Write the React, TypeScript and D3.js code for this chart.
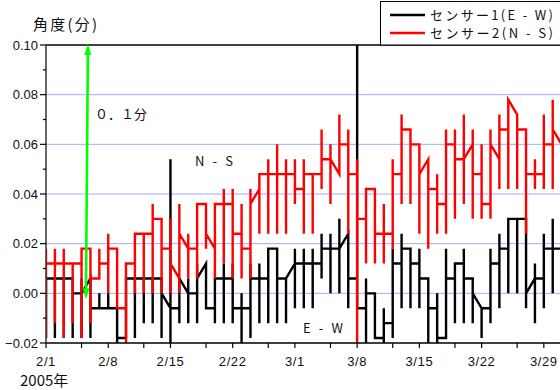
import React from 'react';
import * as d3 from 'd3';

// ---- axis labels ----
const xTickLabels = ['2/1', '2/8', '2/15', '2/22', '3/1', '3/8', '3/15', '3/22', '3/29'];
const xMinorLabels = ['2/5', '2/12', '2/19', '2/26', '3/5', '3/12', '3/19', '3/26'];
const yTicks = [0.1, 0.08, 0.06, 0.04, 0.02, 0.0, -0.02];
const yTickLabels = ['0.10', '0.08', '0.06', '0.04', '0.02', '0.00', '\u22120.02'];
const yMinor = [0.09, 0.07, 0.05, 0.03, 0.01, -0.01];
const gridValues = [0.08, 0.06, 0.04, 0.02, 0.0];

// ---- sensor 2 (N-S), red: daily min / max and level of the line leaving each day / arriving next day ----
const nsLo = [-0.018, -0.012, -0.018, -0.012, -0.018, -0.012, 0.006, 0, -0.006, -0.02, 0, 0, 0, 0, 0,
  0, 0.006, 0.006, 0.018, 0.006, 0.012, 0.006, 0.006, 0.006, 0.024, 0.024, 0.024, 0.024, 0.036,
  0.024, 0.024, 0.042, 0.036, 0.048, 0.024, -0.02, 0.012, 0.012, 0.012, 0.018, 0.036, 0.036, 0.024,
  0.018, 0.024, 0.024, 0.03, 0.036, 0.03, 0.03, 0.03, 0.042, 0.042, 0.042, 0.024, 0.042, 0.042, 0.042, 0.042];
const nsHi = [0.018, 0.018, 0.018, 0.012, 0.018, 0.018, 0.018, 0.024, 0.018, 0.012, 0.024, 0.024, 0.036, 0.03, 0.03,
  0.036, 0.024, 0.036, 0.036, 0.036, 0.042, 0.042, 0.036, 0.042, 0.048, 0.054, 0.06, 0.054, 0.054,
  0.054, 0.048, 0.066, 0.06, 0.072, 0.066, 0.054, 0.042, 0.042, 0.036, 0.054, 0.072, 0.06, 0.054,
  0.054, 0.048, 0.066, 0.066, 0.072, 0.066, 0.06, 0.066, 0.072, 0.078, 0.072, 0.066, 0.054, 0.072, 0.078, 0.066];
const nsOut = [0.012, 0.012, 0.012, 0.012, 0.018, 0.006, 0.012, 0.018, -0.006, 0.012, 0.024, 0.024, 0.03, 0.018, 0.012,
  0.024, 0.018, 0.036, 0.024, 0.036, 0.036, 0.024, 0.018, 0.036, 0.048, 0.048, 0.048, 0.048, 0.042,
  0.048, 0.048, 0.054, 0.054, 0.06, 0.048, 0.03, 0.042, 0.024, 0.024, 0.048, 0.066, 0.06, 0.048,
  0.042, 0.036, 0.06, 0.054, 0.054, 0.048, 0.036, 0.06, 0.066, 0.078, 0.066, 0.048, 0.048, 0.06, 0.066, 0.06];
const nsIn = [0.012, 0.012, 0.012, 0.012, 0.018, 0.006, 0.012, 0.018, -0.006, 0.012, 0.024, 0.024, 0.03, 0.018, 0.006,
  0.018, 0.018, 0.036, 0.018, 0.036, 0.036, 0.024, 0.018, 0.042, 0.048, 0.048, 0.048, 0.048, 0.042,
  0.048, 0.048, 0.054, 0.048, 0.06, 0.048, 0.03, 0.042, 0.024, 0.024, 0.048, 0.066, 0.06, 0.054,
  0.042, 0.036, 0.06, 0.054, 0.06, 0.048, 0.036, 0.054, 0.066, 0.072, 0.066, 0.048, 0.048, 0.06, 0.06, 0.06];

// ---- sensor 1 (E-W), black ----
const ewLo = [-0.018, -0.018, -0.018, -0.018, -0.018, -0.018, -0.006, -0.006, -0.02, -0.018, -0.018, -0.012, -0.012, -0.018, -0.02,
  -0.012, -0.012, -0.012, -0.006, -0.012, -0.012, -0.012, -0.02, -0.018, -0.012, -0.012, -0.012, -0.012, -0.006,
  -0.006, -0.006, 0.006, 0, 0, -0.006, -0.006, -0.02, -0.018, -0.02, -0.018, -0.006, -0.006, -0.006,
  -0.02, -0.02, -0.018, -0.012, -0.012, -0.012, -0.018, -0.012, -0.006, 0, 0, -0.006, -0.012, -0.006, 0, 0];
const ewHi = [0.006, 0.006, 0.006, 0.006, 0.006, 0, 0, 0, -0.006, 0.006, 0.006, 0.006, 0.006, 0.006, 0.054,
  0.006, 0.006, 0.012, 0.012, 0.006, 0.012, 0.012, 0, 0.012, 0.012, 0.018, 0.018, 0.006, 0.018,
  0.018, 0.018, 0.024, 0.024, 0.03, 0.024, 0.1, 0.006, 0, -0.006, 0.018, 0.024, 0.018, 0.018,
  0.006, 0, 0.018, 0.006, 0.018, 0.006, -0.006, 0.018, 0.024, 0.03, 0.03, 0.03, 0.012, 0.024, 0.03, 0.024];
const ewOut = [0.006, 0.006, 0.006, 0, 0, -0.006, -0.006, -0.006, -0.018, 0.006, 0.006, 0.006, 0.006, 0, -0.006,
  0.006, 0, 0.006, -0.006, 0.006, 0.006, -0.006, -0.006, 0.006, 0.006, 0.018, 0.006, 0.006, 0.012,
  0.012, 0.012, 0.018, 0.018, 0.018, 0.006, -0.006, 0, -0.018, -0.012, 0.012, 0.018, 0.012, 0.006,
  -0.006, -0.018, 0.006, 0.012, 0.006, 0, -0.006, 0.012, 0.018, 0.03, 0.03, 0, 0.006, 0.018, 0.018, 0.018];
const ewIn = [0.006, 0.006, 0.006, 0, 0.006, -0.006, -0.006, -0.006, -0.018, 0.006, 0.006, 0.006, 0.006, -0.006, -0.006,
  0, 0, 0.012, -0.006, 0.006, 0.006, -0.006, -0.006, 0.006, 0.006, 0.018, 0.006, 0.012, 0.012,
  0.012, 0.012, 0.018, 0.018, 0.024, 0.006, -0.006, 0, -0.018, -0.012, 0.012, 0.018, 0.012, 0.006,
  -0.006, -0.018, 0.006, 0.012, 0.006, -0.006, -0.006, 0.012, 0.018, 0.03, 0.03, 0.006, 0.006, 0.018, 0.018, 0.018];

const JP = '"Noto Sans CJK JP", sans-serif';
const NUM = '"Liberation Sans", Arial, sans-serif';

const md = (s: string) => {
  const [m, d] = s.split('/').map(Number);
  return new Date(Date.UTC(2005, m - 1, d));
};
const dayDate = (d: number) => new Date(Date.UTC(2005, 1, 1 + d));

function buildPoints(lo: number[], hi: number[], out: number[], inn: number[]) {
  const pts: [Date, number][] = [];
  for (let d = 0; d < lo.length; d++) {
    const t = dayDate(d);
    if (d > 0) pts.push([t, inn[d - 1]]);
    pts.push([t, hi[d]]);
    pts.push([t, lo[d]]);
    pts.push([t, out[d]]);
  }
  return pts;
}

export default function App() {
  const W = 560, H = 390;
  const left = 46, top = 45, bottom = 343;
  const x = d3.scaleUtc().domain([new Date(Date.UTC(2005, 1, 1)), new Date(Date.UTC(2005, 3, 1))]).range([left, 570.5]);
  const y = d3.scaleLinear().domain([-0.02, 0.1]).range([bottom, top]);
  const line = d3.line<[Date, number]>().x(p => x(p[0])).y(p => y(p[1]));
  const ewPath = line(buildPoints(ewLo, ewHi, ewOut, ewIn)) || '';
  const nsPath = line(buildPoints(nsLo, nsHi, nsOut, nsIn)) || '';

  // green arrow (0.1 minute)
  const ax1 = x(new Date(Date.UTC(2005, 1, 5, 17))), ay1 = y(0.1);
  const ax2 = x(new Date(Date.UTC(2005, 1, 5, 12))), ay2 = y(-0.002);

  return (
    <svg width={W} height={H} style={{ position: 'fixed', left: 0, top: 0, background: '#fff' }}>
      <defs>
        <clipPath id="plot">
          <rect x={left} y={top - 1} width={W - left + 20} height={bottom - top + 2} />
        </clipPath>
      </defs>
      <rect x={0} y={0} width={W} height={H} fill="#fff" />
      {/* grid */}
      {gridValues.map(v => (
        <line key={v} x1={left} x2={W} y1={y(v)} y2={y(v)} stroke="#a8a8ff" strokeWidth={1} />
      ))}
      {/* data */}
      <g clipPath="url(#plot)">
        <path d={ewPath} fill="none" stroke="#000" strokeWidth={2.4} strokeLinejoin="miter" />
        <path d={nsPath} fill="none" stroke="#ff0000" strokeWidth={2.4} strokeLinejoin="miter" />
      </g>
      {/* frame */}
      <line x1={left} x2={W} y1={top} y2={top} stroke="#000" strokeWidth={1.3} />
      <line x1={left} x2={W} y1={bottom} y2={bottom} stroke="#000" strokeWidth={1.3} />
      <line x1={left} x2={left} y1={top} y2={bottom} stroke="#333" strokeWidth={1.5} />
      {/* y ticks */}
      {yTicks.map((v, i) => (
        <g key={v}>
          <line x1={left - 6} x2={left} y1={y(v)} y2={y(v)} stroke="#000" strokeWidth={1.2} />
          <text x={38} y={y(v)} dy="0.35em" textAnchor="end" fontFamily={NUM} fontSize={13} fill="#111">{yTickLabels[i]}</text>
        </g>
      ))}
      {yMinor.map(v => (
        <line key={v} x1={left - 3} x2={left} y1={y(v)} y2={y(v)} stroke="#000" strokeWidth={1.2} />
      ))}
      {/* x ticks */}
      {xTickLabels.map(s => (
        <g key={s}>
          <line x1={x(md(s))} x2={x(md(s))} y1={bottom} y2={bottom + 5} stroke="#000" strokeWidth={1.2} />
          <text x={x(md(s))} y={366} textAnchor="middle" fontFamily={NUM} fontSize={13} letterSpacing={0.6} fill="#111">{s}</text>
        </g>
      ))}
      {xMinorLabels.map(s => (
        <line key={s} x1={x(md(s))} x2={x(md(s))} y1={bottom} y2={bottom + 5} stroke="#000" strokeWidth={1.2} />
      ))}
      {/* titles */}
      <text x={33} y={30} fontFamily={JP} fontSize={15} textLength={64} fill="#111">角度(分)</text>
      <text x={20} y={386} fontFamily={JP} fontSize={15} fill="#111">2005年</text>
      {/* annotations */}
      <text x={195} y={166} fontFamily={JP} fontSize={13} textLength={38} lengthAdjust="spacing" fill="#111">N - S</text>
      <text x={303} y={333} fontFamily={JP} fontSize={13} textLength={40} lengthAdjust="spacing" fill="#111">E - W</text>
      <text x={95} y={119} fontFamily={JP} fontSize={13} fill="#111">０．１分</text>
      {/* green arrow */}
      <line x1={ax1} y1={ay1 + 8} x2={ax2} y2={ay2 - 8} stroke="#00ff00" strokeWidth={2.6} />
      <path d={`M${ax1},${ay1 - 1} L${ax1 - 3.5},${ay1 + 10} L${ax1 + 3.5},${ay1 + 10} Z`} fill="#00ff00" />
      <path d={`M${ax2},${ay2 + 1} L${ax2 - 3.5},${ay2 - 10} L${ax2 + 3.5},${ay2 - 10} Z`} fill="#00ff00" />
      {/* legend */}
      <rect x={380.5} y={1.5} width={200} height={43.5} fill="#fff" stroke="#000" strokeWidth={1} />
      <line x1={390} x2={425} y1={15} y2={15} stroke="#000" strokeWidth={2.5} />
      <line x1={390} x2={425} y1={33} y2={33} stroke="#ff0000" strokeWidth={2.5} />
      <text x={430} y={19.5} fontFamily={JP} fontSize={13} textLength={123} lengthAdjust="spacing" fill="#111">センサー1(E - W)</text>
      <text x={430} y={37.5} fontFamily={JP} fontSize={13} textLength={123} lengthAdjust="spacing" fill="#111">センサー2(N - S)</text>
    </svg>
  );
}
